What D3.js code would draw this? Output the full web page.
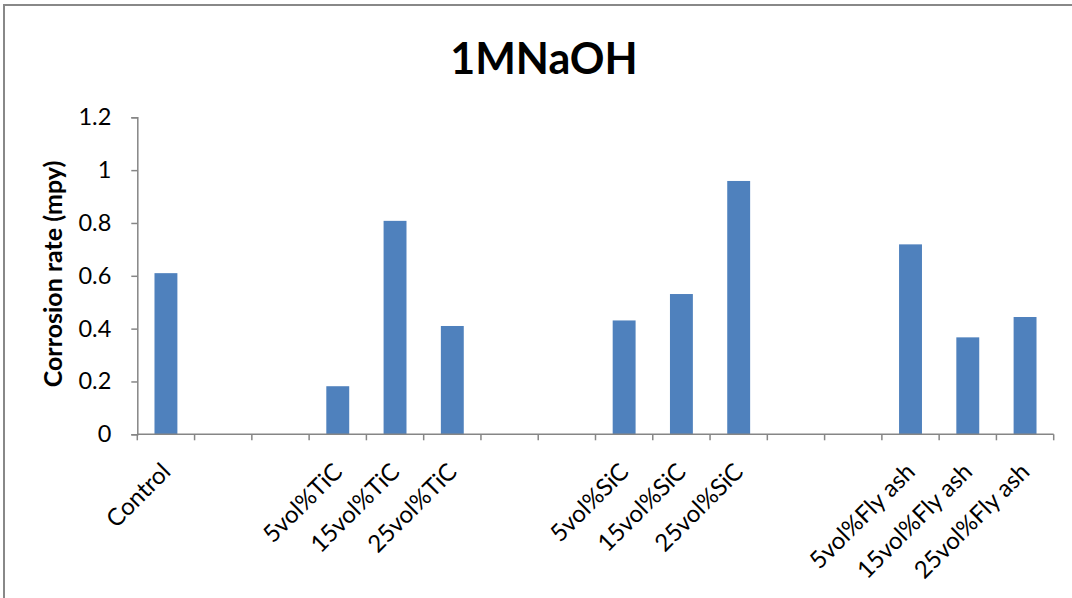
<!DOCTYPE html>
<html><head><meta charset="utf-8">
<script src="https://cdn.jsdelivr.net/npm/d3@7"></script>
<style>body{margin:0;background:#fff;} svg{display:block;}</style>
</head><body>
<svg id="chart" width="1072" height="598"></svg>
<script>
const categories = ["Control","","","5vol%TiC","15vol%TiC","25vol%TiC","","","5vol%SiC","15vol%SiC","25vol%SiC","","","5vol%Fly ash","15vol%Fly ash","25vol%Fly ash"];
const values = [0.61,null,null,0.182,0.808,0.41,null,null,0.431,0.531,0.959,null,null,0.719,0.367,0.444];
const yTicks = [0,0.2,0.4,0.6,0.8,1,1.2];
const title = "1MNaOH";
const yTitle = "Corrosion rate (mpy)";

(function(){
const svg = d3.select("#chart");
const font = "Lato, 'Open Sans', sans-serif";
const axisColor = "#868686";

svg.append("rect").attr("x",4).attr("y",5).attr("width",1100).attr("height",700)
  .attr("fill","none").attr("stroke","#888").attr("stroke-width",2);

const pLeft = 137.3, pRight = 1053.7, pTop = 117.3, pBottom = 434.3;
const idx = d3.range(categories.length);
const x = d3.scaleBand().domain(idx).range([pLeft,pRight]).paddingInner(0).paddingOuter(0);
const y = d3.scaleLinear().domain([0,1.2]).range([pBottom,pTop]);

svg.append("text").attr("x",544).attr("y",74).attr("text-anchor","middle")
  .attr("font-family",font).attr("font-weight","bold").attr("font-size",43).attr("fill","#000").text(title);

svg.append("g").selectAll("rect").data(idx.filter(i=>values[i]!=null)).join("rect")
  .attr("x",i=>x(i)+x.bandwidth()*0.3).attr("width",x.bandwidth()*0.4)
  .attr("y",i=>y(values[i])).attr("height",i=>y(0)-y(values[i]))
  .attr("fill","#4F81BD");

const yAxis = svg.append("g").attr("transform",`translate(${pLeft},0)`)
  .call(d3.axisLeft(y).tickValues(yTicks).tickSize(6).tickPadding(20).tickFormat(d=>String(d)));
yAxis.select(".domain").attr("stroke",axisColor).attr("stroke-width",1.5);
yAxis.selectAll(".tick line").attr("stroke",axisColor).attr("stroke-width",1.5);
yAxis.selectAll(".tick text").attr("font-family",font).attr("font-size",23.5).attr("fill","#000");

const boundaries = d3.range(categories.length+1).map(i=> i<categories.length ? x(i) : pRight);
const xg = svg.append("g");
xg.append("line").attr("x1",pLeft).attr("x2",pRight).attr("y1",pBottom).attr("y2",pBottom)
  .attr("stroke",axisColor).attr("stroke-width",1.5);
xg.selectAll("line.t").data(boundaries).join("line").attr("class","t")
  .attr("x1",d=>d).attr("x2",d=>d).attr("y1",pBottom).attr("y2",pBottom+6)
  .attr("stroke",axisColor).attr("stroke-width",1.5);
xg.selectAll("text").data(idx.filter(i=>categories[i]!=="")).join("text")
  .attr("transform",i=>`translate(${x(i)+x.bandwidth()/2+6},${pBottom+39}) rotate(-45)`)
  .attr("text-anchor","end").attr("font-family",font).attr("font-size",24).attr("fill","#000")
  .text(i=>categories[i]);

svg.append("text").attr("transform",`translate(62,274) rotate(-90)`).attr("text-anchor","middle")
  .attr("font-family",font).attr("font-weight","bold").attr("font-size",25).attr("fill","#000").text(yTitle);
})();
</script>
</body></html>
